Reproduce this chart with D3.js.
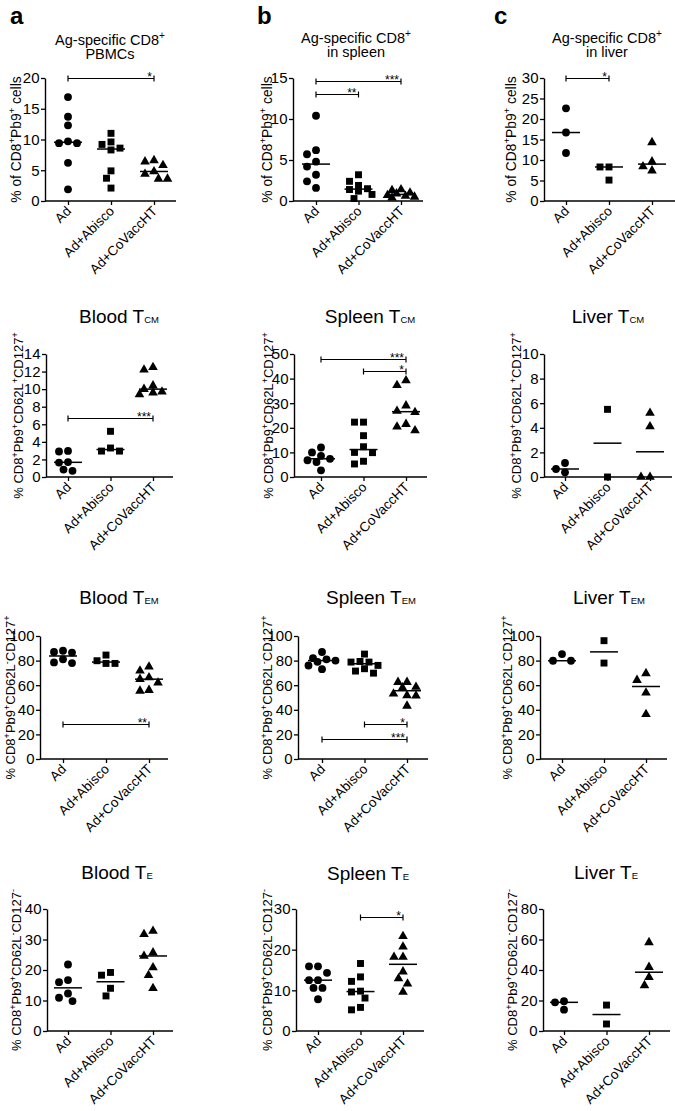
<!DOCTYPE html>
<html><head><meta charset="utf-8">
<script src="https://cdn.jsdelivr.net/npm/d3@7"></script>
<style>body{margin:0;background:#fff}svg{display:block}</style>
</head><body>
<svg id="chart" width="675" height="1111"></svg>
<script>
const categories = ["Ad", "Ad+Abisco", "Ad+CoVaccHT"];

// a: Ag-specific CD8+ PBMCs
const pbmcAd = [16.9, 13.7, 12.3, 9.7, 9.4, 9.4, 6.2, 1.9];
const pbmcAbisco = [11.0, 9.6, 9.2, 8.6, 8.3, 4.9, 3.7, 2.1];
const pbmcCoVacc = [6.6, 6.4, 5.8, 4.8, 4.4, 3.6, 3.6];
// b: Ag-specific CD8+ in spleen
const spleenAd = [10.4, 6.2, 5.7, 4.8, 4.2, 3.2, 2.4, 1.6];
const spleenAbisco = [3.2, 2.4, 1.9, 1.5, 1.4, 1.2, 0.8, 0.3];
const spleenCoVacc = [1.4, 1.3, 1.0, 0.9, 0.7, 0.6, 0.5, 0.4];
// c: Ag-specific CD8+ in liver
const liverAd = [22.6, 16.7, 11.7];
const liverAbisco = [8.3, 8.3, 5.1];
const liverCoVacc = [14.3, 9.6, 8.4, 7.4];
// T central memory
const bloodTcmAd = [2.97, 2.9, 1.7, 1.64, 0.84, 0.7];
const bloodTcmAbisco = [5.2, 3.3, 2.95, 2.95];
const bloodTcmCoVacc = [12.5, 12.2, 10.4, 10.0, 9.7, 9.6, 9.4];
const spleenTcmAd = [12.0, 10.0, 8.6, 7.4, 6.8, 6.1, 2.7];
const spleenTcmAbisco = [22.3, 22.3, 16.8, 12.3, 10.0, 9.9, 6.4, 5.3];
const spleenTcmCoVacc = [39.2, 37.3, 29.0, 26.8, 26.3, 21.5, 20.4, 18.9];
const liverTcmAd = [1.14, 0.65, 0.38];
const liverTcmAbisco = [5.5, 0];
const liverTcmCoVacc = [5.2, 4.1, 0, 0];
// T effector memory
const bloodTemAd = [88, 87, 86.5, 81, 78.5, 78];
const bloodTemAbisco = [84.5, 79.9, 77.7, 77.7];
const bloodTemCoVacc = [75, 71.7, 66.3, 64.9, 62, 56, 55.4];
const spleenTemAd = [87, 82, 81, 80, 79, 76, 73];
const spleenTemAbisco = [85.3, 79.3, 78.8, 78.8, 76.1, 73.4, 71.5, 69.8];
const spleenTemCoVacc = [62.5, 62.5, 58.5, 58, 53, 51.6, 51.4, 43.2];
const liverTemAd = [85.3, 79.9, 79.9];
const liverTemAbisco = [96.2, 78.0];
const liverTemCoVacc = [69.6, 64.1, 53.8, 36.4];
// T effector
const bloodTeAd = [21.8, 16.7, 16.0, 12.3, 10.9, 9.8];
const bloodTeAbisco = [19.2, 18.3, 14.0, 11.5];
const bloodTeCoVacc = [32.8, 31.7, 25.7, 24.6, 20.8, 18.3, 14.0];
const spleenTeAd = [15.9, 15.9, 14.3, 12.5, 12.5, 10.6, 10.6, 7.8];
const spleenTeAbisco = [16.6, 13.3, 12.2, 9.8, 9.6, 8.1, 5.8, 5.2];
const spleenTeCoVacc = [23.3, 20.7, 18.2, 18.2, 14.6, 12.9, 11.6, 9.6];
const liverTeAd = [19.5, 18.8, 14.0];
const liverTeAbisco = [17.0, 4.6];
const liverTeCoVacc = [58.1, 41.9, 35.2, 29.9];

// significance brackets: [fromCategory, toCategory, label, yValue]
const pbmcSig = [[0, 2, "*", 20]];
const spleenSig = [[0, 2, "***", 14.6], [0, 1, "**", 13.0]];
const liverSig = [[0, 1, "*", 30]];
const bloodTcmSig = [[0, 2, "***", 6.7]];
const spleenTcmSig = [[0, 2, "***", 47.9], [1, 2, "*", 43.2]];
const bloodTemSig = [[0, 2, "**", 28.8]];
const spleenTemSig = [[1, 2, "*", 28.8], [0, 2, "***", 16.6]];
const spleenTeSig = [[1, 2, "*", 28.0]];

// tick values
const pbmcTicks = [0, 5, 10, 15, 20];
const spleenTicks = [0, 5, 10, 15];
const liverTicks = [0, 5, 10, 15, 20, 25, 30];
const bloodTcmTicks = [0, 2, 4, 6, 8, 10, 12, 14];
const spleenTcmTicks = [0, 10, 20, 30, 40, 50];
const liverTcmTicks = [0, 2, 4, 6, 8, 10];
const temTicks = [0, 20, 40, 60, 80, 100];
const bloodTeTicks = [0, 10, 20, 30, 40];
const spleenTeTicks = [0, 10, 20, 30];
const liverTeTicks = [0, 20, 40, 60, 80];

const FONT = "'Liberation Sans', Arial, Helvetica, sans-serif";
const svg = d3.select("#chart").attr("font-family", FONT);

const yLabel1 = "% of CD8^+Pb9^+ cells";
const yLabelCM = "% CD8^+Pb9^+CD62L^+CD127^+";
const yLabelEM = "% CD8^+Pb9^+CD62L^-CD127^+";
const yLabelE = "% CD8^+Pb9^+CD62L^-CD127^-";

const panels = [
  {groups: [pbmcAd, pbmcAbisco, pbmcCoVacc], ticks: pbmcTicks, sig: pbmcSig, ylab: yLabel1, ylabFs: 13.8,
   lay: {x0: 45, t0: 68, t1: 154, xe: 176, yt: 78, yb: 201, lx: 21}, letter: "a", lpos: [10, 24],
   title2: ["Ag-specific CD8^+", "PBMCs"], tx: 110, ty: 45},
  {groups: [spleenAd, spleenAbisco, spleenCoVacc], ticks: spleenTicks, sig: spleenSig, ylab: yLabel1, ylabFs: 13.8,
   lay: {x0: 293, t0: 316, t1: 401, xe: 423, yt: 78, yb: 201, lx: 272}, letter: "b", lpos: [257, 24],
   title2: ["Ag-specific CD8^+", "in spleen"], tx: 356, ty: 43},
  {groups: [liverAd, liverAbisco, liverCoVacc], ticks: liverTicks, sig: liverSig, ylab: yLabel1, ylabFs: 13.8,
   lay: {x0: 544, t0: 566, t1: 652, xe: 675, yt: 78, yb: 201, lx: 516}, letter: "c", lpos: [494, 24],
   title2: ["Ag-specific CD8^+", "in liver"], tx: 607, ty: 43},

  {groups: [bloodTcmAd, bloodTcmAbisco, bloodTcmCoVacc], ticks: bloodTcmTicks, sig: bloodTcmSig, ylab: yLabelCM, ylabFs: 13,
   lay: {x0: 46, t0: 68, t1: 153, xe: 173, yt: 354, yb: 477, lx: 23}, title: ["Blood T", "CM"], tx: 119, ty: 323},
  {groups: [spleenTcmAd, spleenTcmAbisco, spleenTcmCoVacc], ticks: spleenTcmTicks, sig: spleenTcmSig, ylab: yLabelCM, ylabFs: 13,
   lay: {x0: 294, t0: 321, t1: 406, xe: 427, yt: 354, yb: 477, lx: 273}, title: ["Spleen T", "CM"], tx: 370, ty: 323},
  {groups: [liverTcmAd, liverTcmAbisco, liverTcmCoVacc], ticks: liverTcmTicks, sig: [], ylab: yLabelCM, ylabFs: 13,
   lay: {x0: 544, t0: 565, t1: 650, xe: 672, yt: 354, yb: 477, lx: 521}, title: ["Liver T", "CM"], tx: 608, ty: 323},

  {groups: [bloodTemAd, bloodTemAbisco, bloodTemCoVacc], ticks: temTicks, sig: bloodTemSig, ylab: yLabelEM, ylabFs: 13,
   lay: {x0: 40, t0: 63, t1: 149, xe: 168, yt: 636, yb: 759, lx: 15}, title: ["Blood T", "EM"], tx: 119, ty: 604},
  {groups: [spleenTemAd, spleenTemAbisco, spleenTemCoVacc], ticks: temTicks, sig: spleenTemSig, ylab: yLabelEM, ylabFs: 13,
   lay: {x0: 298, t0: 322, t1: 407, xe: 428, yt: 636, yb: 759, lx: 272}, title: ["Spleen T", "EM"], tx: 371, ty: 604},
  {groups: [liverTemAd, liverTemAbisco, liverTemCoVacc], ticks: temTicks, sig: [], ylab: yLabelEM, ylabFs: 13,
   lay: {x0: 540, t0: 562, t1: 646, xe: 667, yt: 636, yb: 759, lx: 512}, title: ["Liver T", "EM"], tx: 609, ty: 604},

  {groups: [bloodTeAd, bloodTeAbisco, bloodTeCoVacc], ticks: bloodTeTicks, sig: [], ylab: yLabelE, ylabFs: 13,
   lay: {x0: 47, t0: 68, t1: 153, xe: 173, yt: 909, yb: 1031, lx: 21}, title: ["Blood T", "E"], tx: 117, ty: 879},
  {groups: [spleenTeAd, spleenTeAbisco, spleenTeCoVacc], ticks: spleenTeTicks, sig: spleenTeSig, ylab: yLabelE, ylabFs: 13,
   lay: {x0: 296, t0: 318, t1: 403, xe: 424, yt: 909, yb: 1031, lx: 272}, title: ["Spleen T", "E"], tx: 368, ty: 880},
  {groups: [liverTeAd, liverTeAbisco, liverTeCoVacc], ticks: liverTeTicks, sig: [], ylab: yLabelE, ylabFs: 13,
   lay: {x0: 543, t0: 564, t1: 649, xe: 670, yt: 909, yb: 1031, lx: 517}, title: ["Liver T", "E"], tx: 606, ty: 879}
];

function rich(sel, str, fs) {
  const parts = str.split(/(\^[+\-])/);
  let raised = false;
  const sh = fs * 0.42;
  parts.forEach(p => {
    if (!p) return;
    if (p[0] === "^") {
      sel.append("tspan").attr("font-size", fs * 0.7).attr("dy", raised ? 0 : -sh).text(p.slice(1));
      raised = true;
    } else {
      const t = sel.append("tspan").text(p);
      if (raised) { t.attr("dy", sh); raised = false; }
    }
  });
}

const symbols = [d3.symbolCircle, d3.symbolSquare, d3.symbolTriangle];
const symSizes = [48, 48, 40];

function swarm(values, y, cx) {
  const placed = [];
  const minD = 8.2, step = 4.5, maxOff = 15;
  const offs = [0];
  for (let k = 1; k * step <= maxOff + 0.01; k++) { offs.push(-k * step, k * step); }
  values.forEach(v => {
    const py = y(v);
    let best = null, bestD = -1;
    for (const off of offs) {
      const px = cx + off;
      const dmin = placed.length ? d3.min(placed, p => Math.hypot(p.x - px, p.y - py)) : Infinity;
      if (dmin >= minD) { best = px; break; }
      if (dmin > bestD) { bestD = dmin; best = px; }
    }
    placed.push({x: best, y: py, v});
  });
  return placed;
}

panels.forEach(P => {
  const L = P.lay;
  const g = svg.append("g");
  const ymax = d3.max(P.ticks);
  const y = d3.scaleLinear().domain([0, ymax]).range([L.yb, L.yt]);
  const x = d3.scalePoint().domain(categories).range([L.t0, L.t1]);

  // y axis
  const ya = g.append("g").attr("transform", `translate(${L.x0},0)`)
    .call(d3.axisLeft(y).tickValues(P.ticks).tickSize(4).tickSizeOuter(0).tickPadding(1.5).tickFormat(d3.format("d")));
  ya.attr("font-size", 15).attr("font-family", FONT);
  ya.select(".domain").attr("stroke-width", 1.4);
  ya.selectAll(".tick line").attr("stroke-width", 1.3);
  ya.selectAll(".tick text").attr("font-size", 15).attr("fill", "#000");

  // x axis
  const xa = g.append("g").attr("transform", `translate(0,${L.yb})`)
    .call(d3.axisBottom(x).tickSize(4).tickSizeOuter(0));
  xa.select(".domain").remove();
  xa.selectAll(".tick line").attr("stroke-width", 1.3);
  xa.selectAll(".tick text").remove();
  g.append("line").attr("x1", L.x0).attr("x2", L.xe).attr("y1", L.yb).attr("y2", L.yb)
    .attr("stroke", "#000").attr("stroke-width", 1.4);
  categories.forEach(c => {
    g.append("text").attr("font-size", 13.5).attr("text-anchor", "end")
      .attr("transform", `translate(${x(c) + 4},${L.yb + 11}) rotate(-45)`).text(c);
  });

  // y label
  const yl = g.append("text").attr("font-size", P.ylabFs).attr("text-anchor", "middle")
    .attr("transform", `translate(${L.lx},${(L.yt + L.yb) / 2}) rotate(-90)`);
  rich(yl, P.ylab, P.ylabFs);

  // points + medians
  P.groups.forEach((vals, i) => {
    const cx = x(categories[i]);
    const pts = swarm(vals, y, cx);
    g.selectAll(null).data(pts).enter().append("path")
      .attr("d", d3.symbol().type(symbols[i]).size(symSizes[i]))
      .attr("transform", d => `translate(${d.x},${d.y})`).attr("fill", "#000");
    const m = d3.median(vals);
    g.append("line").attr("x1", cx - 14).attr("x2", cx + 14).attr("y1", y(m)).attr("y2", y(m))
      .attr("stroke", "#000").attr("stroke-width", 1.5);
  });

  // significance brackets
  P.sig.forEach(s => {
    const xa1 = x(categories[s[0]]), xa2 = x(categories[s[1]]), yy = Math.round(y(s[3])) + 0.5;
    g.append("path").attr("d", `M${xa1},${yy - 3}V${yy + 3}M${xa1},${yy}H${xa2}M${xa2},${yy - 3}V${yy + 3}`)
      .attr("stroke", "#000").attr("stroke-width", 1.2).attr("fill", "none");
    g.append("text").attr("x", xa2 - 2).attr("y", yy + 2.5).attr("text-anchor", "end").attr("font-size", 12).text(s[2]);
  });

  // titles
  if (P.title2) {
    const t1 = g.append("text").attr("x", P.tx).attr("y", P.ty).attr("text-anchor", "middle").attr("font-size", 14.5);
    rich(t1, P.title2[0], 14.5);
    g.append("text").attr("x", P.tx).attr("y", P.ty + 14).attr("text-anchor", "middle").attr("font-size", 14.5).text(P.title2[1]);
    g.append("text").attr("x", P.lpos[0]).attr("y", P.lpos[1]).attr("font-size", 24).attr("font-weight", "bold").text(P.letter);
  } else {
    const t = g.append("text").attr("x", P.tx).attr("y", P.ty).attr("text-anchor", "middle").attr("font-size", 19);
    t.append("tspan").text(P.title[0]);
    t.append("tspan").attr("font-size", 9.5).text(P.title[1]);
  }
});
</script>
</body></html>
